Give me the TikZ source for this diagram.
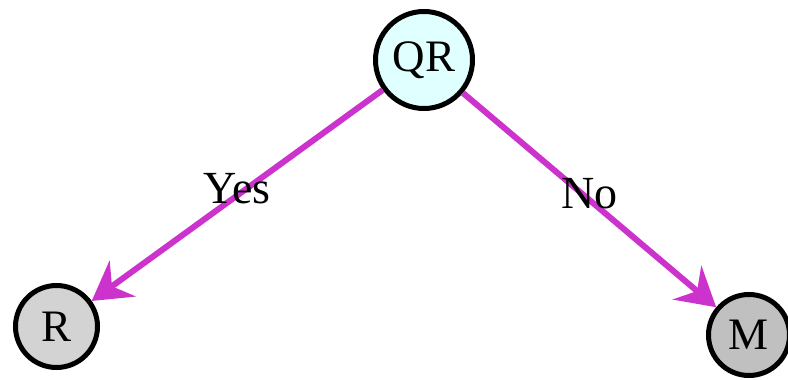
\documentclass[tikz,border=0pt]{standalone}
\usepackage{fontspec}
\setmainfont{Liberation Serif}
\usetikzlibrary{arrows.meta}

\definecolor{rosa}{RGB}{204,51,204}
\definecolor{cian}{RGB}{224,255,255}
\definecolor{grisclaro}{RGB}{211,211,211}
\definecolor{gris}{RGB}{192,192,192}

\begin{document}
\begin{tikzpicture}[x=1pt, y=-1pt,
    nodo/.style={circle, draw, line width=5pt, inner sep=0pt, font=\fontsize{45}{50}\selectfont},
    arista/.style={draw=rosa, line width=6pt, -{Stealth[length=38pt, width=44pt, inset=13pt]}},
    etiqueta/.style={font=\fontsize{46}{52}\selectfont}]
        \useasboundingbox (0, 0) rectangle (788, 380);

        % Nodos
        \node[nodo, fill=cian, minimum size=97pt] (QR) at (424, 60) {QR};
        \node[nodo, fill=grisclaro, minimum size=82pt] (R) at (56.5, 326.5) {R};
        \node[nodo, fill=gris, minimum size=81pt] (M) at (749, 335) {M};

        % Aristas con su etiqueta
        \draw[arista] (QR) -- (R) node[etiqueta, pos=0.5, yshift=7pt] {Yes};
        \draw[arista] (QR) -- (M) node[etiqueta, pos=0.5, yshift=6pt] {No};

    \end{tikzpicture}
\end{document}
